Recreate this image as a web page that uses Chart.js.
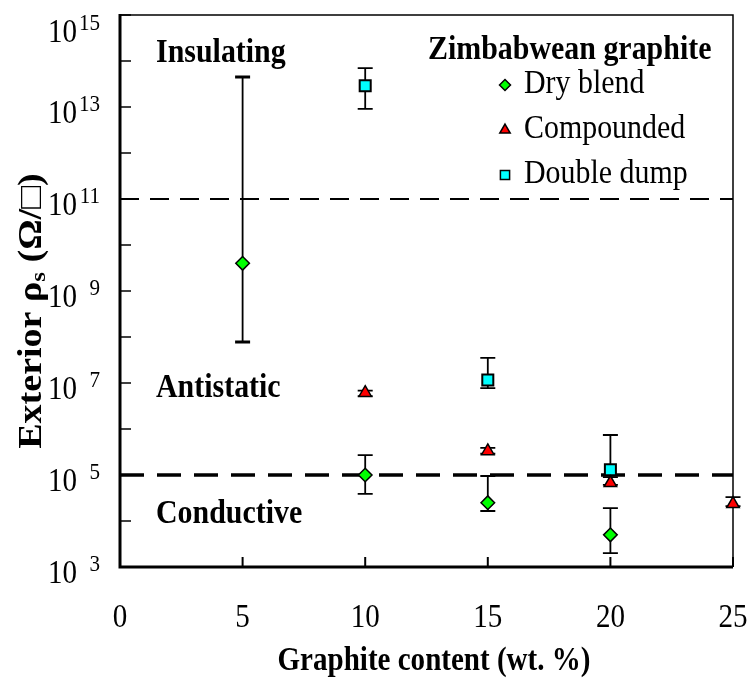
<!DOCTYPE html>
<html>
<head>
<meta charset="utf-8">
<script src="https://cdn.jsdelivr.net/npm/chart.js@4.4.1/dist/chart.umd.min.js"></script>
<style>
  html, body { margin: 0; padding: 0; background: #fff; }
  canvas { display: block; }
</style>
</head>
<body>
<canvas id="grafico" width="751" height="679"></canvas>
<script>
// surface resistivity vs graphite loading, three processing routes
const dryX = [5, 10, 15, 20]
const dryY = [4.0e9, 1.0e5, 2.5e4, 5.0e3]
const dryLo = [7.8e7, 3.9e4, 1.65e4, 2.0e3]
const dryHi = [4.5e13, 2.7e5, 9.5e4, 1.9e4]

const compX = [10, 15, 20, 25]
const compY = [6.1e6, 3.3e5, 6.7e4, 2.35e4]
const compLo = [5.2e6, 2.9e5, 6.1e4, 2.1e4]
const compHi = [6.8e6, 3.9e5, 9.0e4, 3.3e4]

const dumpX = [10, 15, 20]
const dumpY = [2.9e13, 1.16e7, 1.3e5]
const dumpLo = [9.1e12, 7.7e6, 1.0e5]
const dumpHi = [7.0e13, 3.5e7, 7.4e5]

const xTicks = [0, 5, 10, 15, 20, 25]
const yDecades = [3, 4, 5, 6, 7, 8, 9, 10, 11, 12, 13, 14, 15]
const yLabelExps = [3, 5, 7, 9, 11, 13, 15]
const limits = [1e5, 1e11]
const regions = ["Insulating", "Antistatic", "Conductive"]

const serif = "'Liberation Serif', 'Times New Roman', serif"
const SQ = 0.88

// text drawn slightly condensed, like the original plotting program
const txt = (ctx, s, x, y, font, align) => {
  ctx.save()
  ctx.font = font
  const w = ctx.measureText(s).width * SQ
  const x0 = align === "right" ? x - w : align === "center" ? x - w / 2 : x
  ctx.translate(x0, y)
  ctx.scale(SQ, 1)
  ctx.textAlign = "left"
  ctx.textBaseline = "alphabetic"
  ctx.fillStyle = "#000"
  ctx.fillText(s, 0, 0)
  ctx.restore()
  return w
}

const pts = (xs, ys) => xs.map((x, i) => ({ x: x, y: ys[i] }))

const frame = {
  id: "frame",
  beforeDatasetsDraw(chart) {
    const { ctx, chartArea: a, scales: { x, y } } = chart
    ctx.save()
    ctx.strokeStyle = "#000"

    // top and right border
    ctx.lineWidth = 1.5
    ctx.beginPath()
    ctx.moveTo(a.left, a.top)
    ctx.lineTo(a.right, a.top)
    ctx.lineTo(a.right, a.bottom)
    ctx.stroke()

    // axes
    ctx.lineWidth = 3
    ctx.beginPath()
    ctx.moveTo(a.left, a.top - 1)
    ctx.lineTo(a.left, a.bottom)
    ctx.lineTo(a.right, a.bottom)
    ctx.stroke()

    // inward ticks
    ctx.lineWidth = 1.5
    yDecades.forEach((e) => {
      const py = y.getPixelForValue(Math.pow(10, e))
      ctx.beginPath()
      ctx.moveTo(a.left, py)
      ctx.lineTo(a.left + 11, py)
      ctx.stroke()
    })
    ctx.lineWidth = 2
    xTicks.forEach((t) => {
      const px = x.getPixelForValue(t)
      ctx.beginPath()
      ctx.moveTo(px, a.bottom)
      ctx.lineTo(px, a.bottom - 10)
      ctx.stroke()
    })

    // class limits
    limits.forEach((v, i) => {
      const py = y.getPixelForValue(v)
      ctx.lineWidth = i === 0 ? 3.5 : 2
      ctx.setLineDash(i === 0 ? [24, 13] : [19, 11])
      ctx.beginPath()
      ctx.moveTo(a.left, py)
      ctx.lineTo(a.right, py)
      ctx.stroke()
    })
    ctx.setLineDash([])

    // error bars
    chart.data.datasets.forEach((ds) => {
      ds.data.forEach((p, j) => {
        const px = x.getPixelForValue(p.x)
        const hi = y.getPixelForValue(ds.errHi[j])
        const lo = y.getPixelForValue(ds.errLo[j])
        ctx.lineWidth = 1.8
        ctx.beginPath()
        ctx.moveTo(px, hi)
        ctx.lineTo(px, lo)
        ctx.stroke()
        ctx.lineWidth = hi - lo < -200 ? 3 : 1.8
        ctx.beginPath()
        ctx.moveTo(px - 7.5, hi)
        ctx.lineTo(px + 7.5, hi)
        ctx.moveTo(px - 7.5, lo)
        ctx.lineTo(px + 7.5, lo)
        ctx.stroke()
      })
    })
    ctx.restore()
  },
  afterDraw(chart) {
    const { ctx, chartArea: a, scales: { x, y } } = chart

    // y tick labels 10^n
    yLabelExps.forEach((e) => {
      const py = y.getPixelForValue(Math.pow(10, e))
      const base = Math.max(py + 16, a.top + 27)
      txt(ctx, "10", a.left - 43, base, `33px ${serif}`, "right")
      txt(ctx, String(e), a.left - 20, base - 12, `24px ${serif}`, "right")
    })

    // x tick labels
    xTicks.forEach((t) => {
      txt(ctx, String(t), x.getPixelForValue(t), a.bottom + 60, `33px ${serif}`, "center")
    })

    txt(ctx, "Graphite content (wt. %)", 434, a.bottom + 103, `bold 33px ${serif}`, "center")

    // y title with subscript
    ctx.save()
    ctx.translate(41, 311)
    ctx.rotate(-Math.PI / 2)
    ctx.scale(1, SQ)
    ctx.fillStyle = "#000"
    ctx.textBaseline = "alphabetic"
    const f1 = `bold 38px ${serif}`
    const f2 = `bold 25px ${serif}`
    ctx.font = f1
    const wA = ctx.measureText("Exterior \u03c1").width
    const wC = ctx.measureText(" (\u03a9/\u25a1)").width
    ctx.font = f2
    const wB = ctx.measureText("s").width
    let cx = -(wA + wB + wC) / 2
    ctx.font = f1
    ctx.fillText("Exterior \u03c1", cx, 0)
    cx += wA
    ctx.font = f2
    ctx.fillText("s", cx, 4)
    cx += wB
    ctx.font = f1
    ctx.fillText(" (\u03a9/\u25a1)", cx, 0)
    ctx.restore()

    // region names
    const ry = [a.top + 47, a.top + 382, a.top + 508]
    regions.forEach((r, i) => {
      txt(ctx, r, a.left + 36, ry[i], `bold 34px ${serif}`, "left")
    })

    // legend
    txt(ctx, "Zimbabwean graphite", a.right - 305, a.top + 44, `bold 34px ${serif}`, "left")
    chart.data.datasets.forEach((ds, i) => {
      const by = a.top + 78 + i * 45
      ctx.save()
      ctx.fillStyle = ds.backgroundColor
      ctx.strokeStyle = "#000"
      ctx.lineWidth = 1.5
      Chart.helpers.drawPoint(ctx, {
        pointStyle: ds.pointStyle,
        radius: ds.legendRadius,
        rotation: 0,
        borderWidth: 1.5
      }, a.right - 228, by - 8)
      ctx.restore()
      txt(ctx, ds.label, a.right - 209, by, `34px ${serif}`, "left")
    })
  }
}

const grafico = document.getElementById("grafico")

new Chart(grafico, {
  type: "scatter",
  data: {
    datasets: [
      {
        label: "Dry blend",
        data: pts(dryX, dryY),
        errLo: dryLo,
        errHi: dryHi,
        pointStyle: "rectRot",
        pointRadius: 6.8,
        legendRadius: 5.5,
        backgroundColor: "#00ff00",
        borderColor: "#000",
        borderWidth: 1.5,
        clip: false
      },
      {
        label: "Compounded",
        data: pts(compX, compY),
        errLo: compLo,
        errHi: compHi,
        pointStyle: "triangle",
        pointRadius: 7.2,
        legendRadius: 6,
        backgroundColor: "#ff0000",
        borderColor: "#000",
        borderWidth: 1.5,
        clip: false
      },
      {
        label: "Double dump",
        data: pts(dumpX, dumpY),
        errLo: dumpLo,
        errHi: dumpHi,
        pointStyle: "rect",
        pointRadius: 7.8,
        legendRadius: 6.5,
        backgroundColor: "#00ffff",
        borderColor: "#000",
        borderWidth: 2,
        clip: false
      }
    ]
  },
  options: {
    responsive: false,
    animation: false,
    devicePixelRatio: 1,
    layout: { padding: { left: 120, top: 15, right: 18, bottom: 112 } },
    plugins: {
      legend: { display: false },
      tooltip: { enabled: false }
    },
    scales: {
      x: { type: "linear", min: 0, max: 25, display: false },
      y: { type: "logarithmic", min: 1e3, max: 1e15, display: false }
    }
  },
  plugins: [frame]
})
</script>
</body>
</html>
